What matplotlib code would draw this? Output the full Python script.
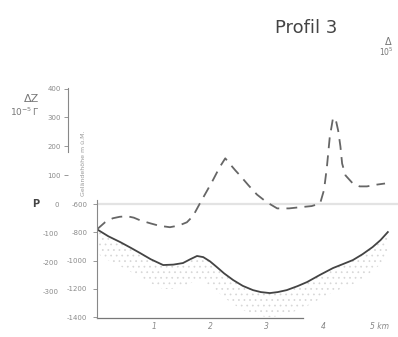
import numpy as np
import matplotlib
matplotlib.use("Agg")
import matplotlib.pyplot as plt

# Profile 3: gravity anomaly (dashed) and terrain (solid)
km_dz = [0.0, 0.07, 0.14, 0.21, 0.28, 0.40, 0.53, 0.65, 0.76, 0.95, 1.10, 1.29,
         1.45, 1.59, 1.70, 1.82, 1.95, 2.05, 2.17, 2.27, 2.35, 2.45, 2.53, 2.68,
         2.83, 3.00, 3.19, 3.40, 3.59, 3.80, 3.95, 4.02, 4.07, 4.12, 4.18, 4.23,
         4.27, 4.31, 4.34, 4.40, 4.53, 4.65, 4.78, 4.95, 5.10]
dz = [-86, -74, -62, -54, -48, -43, -41, -46, -55, -66, -74, -79,
      -73, -62, -40, 3, 48, 83, 128, 159, 140, 117, 100, 66,
      34, 8, -14, -14, -10, -6, 3, 50, 128, 230, 300, 290,
      255, 200, 141, 100, 72, 62, 62, 68, 72]

km_topo = [0.02, 0.20, 0.41, 0.60, 0.76, 0.95, 1.17, 1.35, 1.52, 1.65, 1.77,
           1.88, 2.00, 2.12, 2.25, 2.41, 2.58, 2.76, 2.90, 3.06, 3.20, 3.36,
           3.55, 3.72, 3.95, 4.18, 4.35, 4.53, 4.70, 4.88, 5.02, 5.15]
topo = [-784, -828, -869, -910, -946, -990, -1031, -1028, -1017, -990, -967,
        -975, -1005, -1045, -1090, -1137, -1178, -1208, -1222, -1229, -1222, -1208,
        -1180, -1151, -1100, -1052, -1025, -996, -955, -904, -855, -798]

dz_ticks = [400, 300, 200, 100]
dz_ticks_low = [0, -100, -200, -300]
topo_ticks = [-600, -800, -1000, -1200, -1400]
x_ticks = [1, 2, 3, 4, 5]
x_labels = ["1", "2", "3", "4", "5 km"]

plt.rcParams['hatch.linewidth'] = 0.5
plt.rcParams['hatch.color'] = "#d6d6d6"
fig = plt.figure(figsize=(3.98, 3.37), dpi=100)
ax = fig.add_axes([0.244, 0.056, 0.756, 0.683])
ax.set_xlim(0, 5.33)
ax.set_ylim(-393, 402)

for s in ["top", "right"]:
    ax.spines[s].set_visible(False)
ax.spines["left"].set_color("#888888")
ax.spines["bottom"].set_color("#777777")
ax.spines["left"].set_linewidth(0.8)
ax.spines["bottom"].set_linewidth(0.9)
ax.spines["left"].set_position(("outward", 21))
ax.spines["left"].set_bounds(180, 402)
ax.spines["bottom"].set_bounds(0, 3.65)

ax.axhline(0, color="#e3e3e3", lw=1.6, zorder=0)
ax.plot(km_dz, dz, color="#666666", lw=1.3, dashes=(6, 4))

ax.set_yticks(dz_ticks)
ax.set_yticklabels([str(v) for v in dz_ticks], fontsize=5, color="#8a8a8a")
ax.tick_params(axis="y", length=3, width=0.6, color="#888888", pad=2)
ax.set_xticks(x_ticks)
ax.set_xticklabels(x_labels, fontsize=5.5, color="#888888", style="italic")
ax.tick_params(axis="x", length=0, pad=3)

# lower part of the anomaly scale (labels only)
sec = ax.secondary_yaxis(-0.096)
sec.spines["left"].set_visible(False)
sec.set_yticks(dz_ticks_low)
sec.set_yticklabels([str(v) for v in dz_ticks_low], fontsize=5, color="#8a8a8a")
sec.tick_params(length=0, pad=7)

# terrain on its own scale
axt = ax.twinx()
axt.set_ylim(-1406, 220)
for s in ["top", "right", "bottom"]:
    axt.spines[s].set_visible(False)
axt.spines["left"].set_visible(True)
axt.spines["left"].set_color("#888888")
axt.spines["left"].set_linewidth(0.8)
axt.spines["left"].set_bounds(-1406, -572)
axt.yaxis.set_ticks_position("left")
axt.set_yticks(topo_ticks)
axt.set_yticklabels([str(v) for v in topo_ticks], fontsize=5, color="#8a8a8a")
axt.tick_params(axis="y", length=3, width=0.6, color="#888888", pad=4)
topo_arr = np.array(topo)
axt.fill_between(km_topo, topo_arr, topo_arr - 170, facecolor="none",
                 edgecolor="#d6d6d6", hatch="...", linewidth=0)
axt.plot(km_topo, topo, color="#444444", lw=1.3)

# labels
fig.text(0.77, 0.918, "Profil 3", fontsize=13, color="#444444", ha="center", va="center",
         family=["Liberation Sans Narrow", "DejaVu Sans"])
fig.text(0.078, 0.705, "ΔZ", fontsize=8, color="#777777", ha="center", va="center")
fig.text(0.062, 0.668, r"$10^{-5}\,\Gamma$", fontsize=6.5, color="#777777",
         ha="center", va="center")
fig.text(0.967, 0.874, "Δ", fontsize=7, color="#777777", ha="left", va="center")
fig.text(0.953, 0.845, r"$10^{5}$", fontsize=5.5, color="#777777", ha="left", va="center")
fig.text(0.209, 0.516, "Geländehöhe m ü.M.", fontsize=4.5, color="#999999",
         rotation=90, ha="center", va="center")
fig.text(0.09, 0.395, "P", fontsize=7, color="#444444", ha="center", va="center",
         fontweight="bold")

fig.savefig("out.png", dpi=100)
